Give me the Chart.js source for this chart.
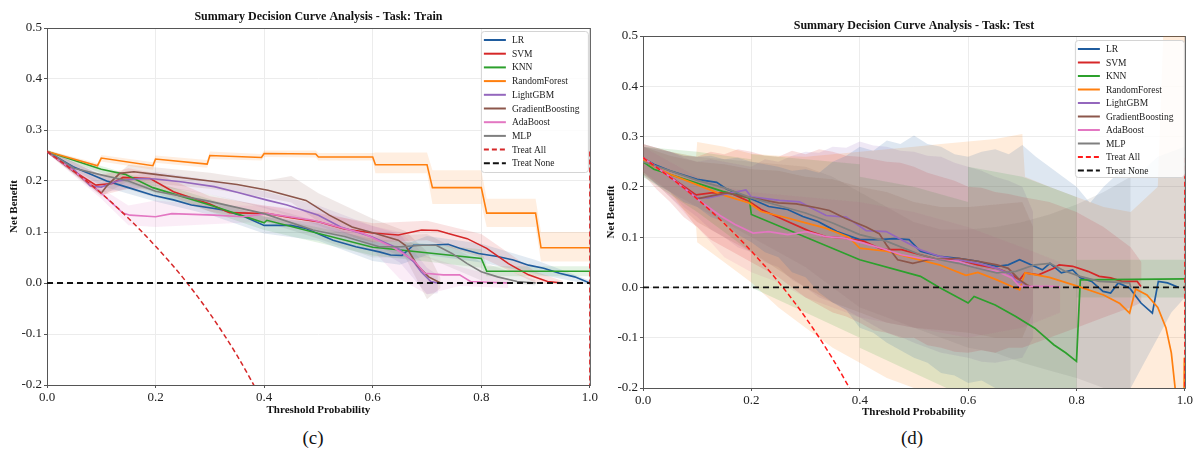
<!DOCTYPE html>
<html>
<head>
<meta charset="utf-8">
<script src="https://cdn.jsdelivr.net/npm/chart.js@4.4.1/dist/chart.umd.min.js"></script>
<style>
  html, body { margin: 0; padding: 0; background: #fff; }
  body { width: 1195px; height: 456px; position: relative; overflow: hidden; font-family: "Liberation Serif", serif; }
  canvas { position: absolute; top: 0; }
  #trainChart { left: 0; }
  #testChart { left: 600px; }
  .cap { position: absolute; top: 427px; width: 100px; text-align: center; font-size: 19px; line-height: 22px; color: #111; }
</style>
</head>
<body>
<canvas id="trainChart" width="600" height="420"></canvas>
<canvas id="testChart" width="595" height="420"></canvas>
<div class="cap" style="left:263px">(c)</div>
<div class="cap" style="left:862px">(d)</div>
<script>
"use strict";

// ---------------------------------------------------------
// Data
// ---------------------------------------------------------

const MODEL_NAMES = ["LR", "SVM", "KNN", "RandomForest", "LightGBM", "GradientBoosting", "AdaBoost", "MLP"];
const MODEL_COLORS = ["#1f5c9e", "#d62728", "#2ca02c", "#ff7f0e", "#9467bd", "#8c564b", "#e377c2", "#7f7f7f"];
const X_TICKS = [0, 0.2, 0.4, 0.6, 0.8, 1.0];
const Y_TICKS = [-0.2, -0.1, 0.0, 0.1, 0.2, 0.3, 0.4, 0.5];

// train: [threshold, net benefit]
const trainLR = [[0,0.258],[0.048,0.228],[0.11,0.200],[0.15,0.187],[0.195,0.172],[0.233,0.163],[0.266,0.153],[0.308,0.146],[0.325,0.143],[0.364,0.130],[0.40,0.113],[0.449,0.113],[0.477,0.107],[0.527,0.084],[0.569,0.071],[0.612,0.061],[0.633,0.055],[0.654,0.054],[0.675,0.074],[0.703,0.074],[0.739,0.076],[0.76,0.068],[0.795,0.058],[0.83,0.052],[0.859,0.045],[0.887,0.035],[0.915,0.029],[0.944,0.019],[0.972,0.012],[1.0,0.0]];
const trainSVM = [[0,0.258],[0.05,0.219],[0.09,0.192],[0.12,0.195],[0.14,0.207],[0.19,0.205],[0.233,0.179],[0.3,0.155],[0.336,0.138],[0.407,0.136],[0.45,0.128],[0.5,0.120],[0.548,0.106],[0.6,0.098],[0.647,0.094],[0.69,0.104],[0.72,0.103],[0.739,0.097],[0.774,0.087],[0.81,0.068],[0.85,0.038],[0.887,0.016],[0.922,0.003],[0.95,0.0]];
const trainKNN = [[0,0.258],[0.1,0.223],[0.144,0.213],[0.195,0.187],[0.3,0.153],[0.4,0.118],[0.405,0.123],[0.6,0.070],[0.62,0.068],[0.8,0.048],[0.81,0.023],[1.0,0.023]];
const trainRF = [[0,0.258],[0.093,0.230],[0.1,0.245],[0.195,0.230],[0.2,0.243],[0.295,0.233],[0.3,0.250],[0.395,0.246],[0.4,0.254],[0.495,0.253],[0.5,0.247],[0.6,0.247],[0.605,0.232],[0.7,0.232],[0.71,0.187],[0.8,0.187],[0.81,0.137],[0.9,0.137],[0.91,0.069],[1.0,0.069]];
const trainLGBM = [[0,0.258],[0.05,0.222],[0.08,0.19],[0.1,0.188],[0.13,0.2],[0.17,0.205],[0.2,0.204],[0.25,0.198],[0.308,0.189],[0.35,0.178],[0.407,0.162],[0.442,0.153],[0.5,0.133],[0.541,0.110],[0.597,0.091],[0.647,0.068],[0.675,0.042],[0.689,0.022],[0.707,0.003],[0.72,0.0]];
const trainGB = [[0,0.258],[0.05,0.218],[0.1,0.176],[0.11,0.19],[0.134,0.215],[0.16,0.218],[0.2,0.213],[0.3,0.2],[0.35,0.193],[0.407,0.182],[0.477,0.162],[0.52,0.133],[0.562,0.110],[0.605,0.097],[0.647,0.084],[0.66,0.074],[0.682,0.035],[0.703,0.012],[0.725,0.0]];
const trainAda = [[0,0.258],[0.05,0.219],[0.1,0.176],[0.14,0.137],[0.153,0.133],[0.2,0.13],[0.23,0.136],[0.308,0.133],[0.36,0.13],[0.407,0.136],[0.49,0.123],[0.583,0.097],[0.64,0.068],[0.675,0.045],[0.696,0.019],[0.73,0.016],[0.76,0.016],[0.78,0.003],[0.85,0.0]];
const trainMLP = [[0,0.258],[0.05,0.225],[0.1,0.212],[0.15,0.2],[0.2,0.18],[0.3,0.16],[0.4,0.136],[0.49,0.104],[0.548,0.091],[0.612,0.071],[0.654,0.071],[0.69,0.074],[0.717,0.074],[0.746,0.058],[0.774,0.038],[0.8,0.022],[0.83,0.012],[0.866,0.003],[0.9,0.0]];
const trainTreatAll = [[0,0.258],[0.05,0.219],[0.1,0.176],[0.15,0.127],[0.2,0.072],[0.25,0.011],[0.3,-0.060],[0.35,-0.142],[0.4,-0.237]];
const trainTreatAllEdge = [[1,0.258],[1,-0.2]];

// train bands: [threshold, lower, upper]
const trainLRBand = [[0,0.255,0.261],[0.1,0.19,0.212],[0.2,0.16,0.186],[0.3,0.134,0.162],[0.4,0.097,0.13],[0.5,0.083,0.117],[0.6,0.043,0.082],[0.65,0.036,0.072],[0.7,0.055,0.092],[0.8,0.04,0.077],[0.9,0.018,0.045],[1,-0.003,0.005]];
const trainSVMBand = [[0,0.255,0.261],[0.1,0.172,0.212],[0.15,0.185,0.225],[0.2,0.183,0.215],[0.3,0.14,0.17],[0.4,0.12,0.152],[0.5,0.104,0.137],[0.6,0.08,0.117],[0.7,0.084,0.122],[0.8,0.05,0.096],[0.9,0.0,0.022],[0.95,-0.003,0.004]];
const trainKNNBand = [[0,0.255,0.261],[0.2,0.176,0.198],[0.4,0.104,0.131],[0.6,0.054,0.087],[0.8,0.03,0.066],[0.81,0.013,0.033],[1,0.013,0.033]];
const trainRFBand = [[0,0.255,0.261],[0.093,0.226,0.235],[0.1,0.238,0.251],[0.195,0.222,0.237],[0.2,0.236,0.25],[0.295,0.226,0.241],[0.3,0.243,0.258],[0.395,0.24,0.253],[0.4,0.247,0.26],[0.495,0.246,0.26],[0.5,0.24,0.255],[0.6,0.24,0.255],[0.605,0.215,0.256],[0.7,0.215,0.256],[0.71,0.155,0.221],[0.8,0.155,0.221],[0.81,0.11,0.165],[0.9,0.11,0.165],[0.91,0.042,0.1],[1,0.042,0.1]];
const trainLGBMBand = [[0,0.255,0.261],[0.1,0.178,0.198],[0.2,0.19,0.218],[0.3,0.174,0.202],[0.4,0.147,0.18],[0.5,0.113,0.152],[0.6,0.07,0.112],[0.65,0.04,0.096],[0.7,-0.022,0.03],[0.72,-0.02,0.015]];
const trainGBBand = [[0,0.255,0.261],[0.1,0.17,0.182],[0.15,0.2,0.232],[0.3,0.185,0.216],[0.4,0.168,0.2],[0.45,0.158,0.21],[0.5,0.12,0.176],[0.6,0.074,0.126],[0.66,0.05,0.102],[0.7,-0.032,0.062],[0.725,-0.01,0.01]];
const trainAdaBand = [[0,0.255,0.261],[0.1,0.165,0.186],[0.15,0.113,0.152],[0.2,0.11,0.162],[0.3,0.115,0.152],[0.4,0.12,0.152],[0.5,0.1,0.142],[0.6,0.064,0.112],[0.65,0.008,0.1],[0.7,-0.022,0.052],[0.76,-0.006,0.032],[0.85,-0.01,0.008]];
const trainMLPBand = [[0,0.255,0.261],[0.1,0.2,0.223],[0.2,0.167,0.193],[0.3,0.146,0.174],[0.4,0.12,0.15],[0.5,0.087,0.121],[0.6,0.05,0.091],[0.7,0.05,0.096],[0.8,0.005,0.041],[0.9,-0.005,0.006]];

// test: [threshold, net benefit]
const testLR = [[0,0.257],[0.02,0.245],[0.05,0.232],[0.1,0.215],[0.136,0.209],[0.154,0.196],[0.196,0.178],[0.232,0.161],[0.267,0.155],[0.295,0.141],[0.323,0.131],[0.358,0.111],[0.4,0.095],[0.435,0.095],[0.463,0.097],[0.491,0.095],[0.512,0.072],[0.547,0.062],[0.582,0.058],[0.618,0.052],[0.653,0.042],[0.674,0.045],[0.695,0.055],[0.716,0.045],[0.737,0.035],[0.751,0.048],[0.772,0.029],[0.793,0.035],[0.807,0.019],[0.828,0.012],[0.849,-0.008],[0.863,-0.011],[0.877,0.009],[0.898,-0.001],[0.919,-0.031],[0.94,-0.051],[0.951,0.012],[0.968,0.009],[0.989,0.0]];
const testSVM = [[0,0.258],[0.05,0.22],[0.098,0.184],[0.126,0.188],[0.161,0.188],[0.196,0.171],[0.218,0.155],[0.267,0.131],[0.309,0.111],[0.337,0.101],[0.372,0.098],[0.407,0.092],[0.442,0.075],[0.477,0.075],[0.512,0.065],[0.547,0.055],[0.582,0.055],[0.618,0.045],[0.653,0.038],[0.674,0.029],[0.695,0.015],[0.705,0.029],[0.73,0.025],[0.758,0.038],[0.768,0.045],[0.793,0.042],[0.821,0.032],[0.842,0.022],[0.863,0.019],[0.884,0.012],[0.912,0.012],[0.919,0.002]];
const testKNN = [[0,0.25],[0.02,0.235],[0.147,0.191],[0.196,0.178],[0.2,0.145],[0.4,0.055],[0.512,0.022],[0.547,0.0],[0.6,-0.031],[0.611,-0.018],[0.65,-0.035],[0.688,-0.058],[0.723,-0.081],[0.758,-0.114],[0.78,-0.13],[0.8,-0.147],[0.807,0.015],[1.0,0.017]];
const testRF = [[0,0.255],[0.014,0.244],[0.05,0.225],[0.091,0.208],[0.147,0.184],[0.196,0.168],[0.218,0.151],[0.267,0.138],[0.302,0.128],[0.337,0.118],[0.38,0.1],[0.4,0.078],[0.449,0.072],[0.498,0.058],[0.547,0.045],[0.596,0.024],[0.618,0.030],[0.653,0.015],[0.695,-0.005],[0.705,0.029],[0.75,0.02],[0.8,0.003],[0.85,-0.015],[0.88,-0.032],[0.898,-0.051],[0.909,-0.003],[0.93,-0.015],[0.95,-0.04],[0.965,-0.08],[0.975,-0.13],[0.982,-0.2],[0.99,-0.4],[0.997,-0.4],[0.999,-0.14]];
const testLGBM = [[0,0.258],[0.05,0.22],[0.1,0.178],[0.12,0.178],[0.15,0.185],[0.19,0.194],[0.2,0.18],[0.252,0.173],[0.289,0.17],[0.338,0.143],[0.375,0.14],[0.412,0.113],[0.449,0.111],[0.477,0.095],[0.512,0.075],[0.547,0.062],[0.618,0.048],[0.653,0.038],[0.681,0.025],[0.688,0.012],[0.702,0.009],[0.71,0.0]];
const testGB = [[0,0.258],[0.05,0.22],[0.1,0.176],[0.117,0.18],[0.154,0.188],[0.2,0.178],[0.25,0.168],[0.283,0.166],[0.323,0.158],[0.344,0.153],[0.372,0.138],[0.412,0.12],[0.436,0.107],[0.449,0.085],[0.47,0.055],[0.498,0.048],[0.526,0.055],[0.582,0.058],[0.618,0.052],[0.653,0.045],[0.674,0.038],[0.695,0.015],[0.709,0.005],[0.72,0.0]];
const testAda = [[0,0.258],[0.05,0.22],[0.1,0.176],[0.142,0.143],[0.17,0.125],[0.203,0.108],[0.232,0.111],[0.267,0.105],[0.302,0.111],[0.337,0.101],[0.372,0.098],[0.407,0.088],[0.449,0.075],[0.477,0.065],[0.512,0.058],[0.547,0.055],[0.582,0.052],[0.618,0.038],[0.653,0.032],[0.681,0.019],[0.695,0.002],[0.758,0.002],[0.77,0.0]];
const testMLP = [[0,0.25],[0.05,0.232],[0.1,0.213],[0.15,0.198],[0.2,0.178],[0.25,0.163],[0.3,0.148],[0.35,0.128],[0.4,0.105],[0.449,0.092],[0.512,0.065],[0.547,0.055],[0.582,0.048],[0.618,0.038],[0.653,0.029],[0.688,0.032],[0.723,0.045],[0.751,0.048],[0.779,0.032],[0.807,0.022],[0.842,0.012],[0.898,0.009],[0.9,0.0]];
const testTreatAll = [[0,0.258],[0.05,0.219],[0.1,0.176],[0.15,0.127],[0.2,0.072],[0.25,0.011],[0.3,-0.060],[0.35,-0.142],[0.4,-0.237]];
const testTreatAllEdge = [[1,0.258],[1,-0.2]];

// test bands: [threshold, lower, upper]
const testLRBand = [[0,0.225,0.285],[0.025,0.205,0.278],[0.05,0.19,0.27],[0.075,0.17,0.262],[0.1,0.16,0.26],[0.125,0.14,0.262],[0.15,0.13,0.255],[0.175,0.105,0.258],[0.2,0.09,0.25],[0.225,0.07,0.245],[0.25,0.06,0.24],[0.275,0.03,0.232],[0.3,0.02,0.235],[0.325,-0.01,0.228],[0.35,-0.03,0.25],[0.375,-0.045,0.262],[0.4,-0.08,0.28],[0.425,-0.09,0.272],[0.45,-0.11,0.292],[0.475,-0.125,0.285],[0.5,-0.14,0.302],[0.525,-0.15,0.285],[0.55,-0.17,0.28],[0.575,-0.175,0.265],[0.6,-0.19,0.26],[0.625,-0.185,0.27],[0.65,-0.2,0.275],[0.675,-0.21,0.265],[0.7,-0.22,0.283],[0.725,-0.225,0.26],[0.75,-0.23,0.24],[0.775,-0.23,0.22],[0.8,-0.23,0.2],[0.825,-0.22,0.168],[0.85,-0.22,0.2],[0.875,-0.21,0.225],[0.9,-0.2,0.24],[0.925,-0.15,0.235],[0.95,-0.1,0.26],[0.975,-0.05,0.27],[1.0,-0.02,0.28]];
const testSVMBand = [[0,0.225,0.285],[0.025,0.195,0.278],[0.05,0.17,0.27],[0.075,0.14,0.262],[0.1,0.12,0.26],[0.125,0.095,0.27],[0.15,0.08,0.265],[0.175,0.065,0.275],[0.2,0.05,0.27],[0.225,0.035,0.262],[0.25,0.02,0.26],[0.275,0.0,0.272],[0.3,-0.02,0.265],[0.325,-0.035,0.275],[0.35,-0.05,0.27],[0.375,-0.058,0.262],[0.4,-0.07,0.26],[0.425,-0.085,0.255],[0.45,-0.09,0.25],[0.475,-0.1,0.248],[0.5,-0.1,0.24],[0.525,-0.115,0.228],[0.55,-0.12,0.22],[0.575,-0.128,0.212],[0.6,-0.13,0.2],[0.625,-0.125,0.198],[0.65,-0.13,0.19],[0.675,-0.12,0.186],[0.7,-0.12,0.18],[0.75,-0.1,0.17],[0.8,-0.08,0.15],[0.85,-0.06,0.12],[0.9,-0.04,0.08],[0.92,-0.03,0.05]];
const testKNNBand = [[0,0.22,0.28],[0.1,0.15,0.27],[0.2,0.07,0.255],[0.2,0.0,0.265],[0.3,-0.05,0.255],[0.4,-0.1,0.245],[0.4,-0.12,0.22],[0.5,-0.17,0.2],[0.6,-0.22,0.17],[0.6,-0.2,0.24],[0.7,-0.25,0.22],[0.8,-0.3,0.18],[0.8,-0.02,0.055],[0.9,-0.02,0.055],[1.0,-0.02,0.055]];
const testRFBand = [[0,0.225,0.285],[0.05,0.19,0.27],[0.098,0.12,0.26],[0.1,0.09,0.289],[0.15,0.05,0.28],[0.2,0.01,0.266],[0.25,-0.04,0.262],[0.3,-0.08,0.26],[0.35,-0.12,0.265],[0.4,-0.15,0.27],[0.45,-0.18,0.275],[0.5,-0.2,0.28],[0.55,-0.22,0.285],[0.6,-0.25,0.29],[0.65,-0.25,0.295],[0.7,-0.25,0.305],[0.705,-0.25,0.22],[0.75,-0.25,0.2],[0.8,-0.25,0.18],[0.85,-0.22,0.16],[0.9,-0.2,0.15],[0.95,-0.25,0.2],[0.96,-0.3,0.5],[1.0,-0.3,0.5]];
const testLGBMBand = [[0,0.23,0.28],[0.025,0.21,0.275],[0.05,0.19,0.27],[0.075,0.16,0.258],[0.1,0.14,0.25],[0.125,0.115,0.255],[0.15,0.1,0.25],[0.175,0.08,0.245],[0.2,0.07,0.24],[0.225,0.05,0.255],[0.25,0.04,0.25],[0.275,0.015,0.262],[0.3,0.0,0.27],[0.325,-0.02,0.268],[0.35,-0.03,0.28],[0.375,-0.045,0.278],[0.4,-0.06,0.29],[0.425,-0.075,0.282],[0.45,-0.09,0.28],[0.475,-0.098,0.272],[0.5,-0.11,0.27],[0.525,-0.12,0.262],[0.55,-0.13,0.26],[0.575,-0.135,0.248],[0.6,-0.14,0.24],[0.625,-0.148,0.232],[0.65,-0.15,0.22],[0.675,-0.145,0.212],[0.7,-0.14,0.2],[0.72,-0.1,0.15]];
const testGBBand = [[0,0.23,0.28],[0.05,0.18,0.262],[0.1,0.13,0.25],[0.15,0.1,0.245],[0.2,0.07,0.235],[0.25,0.035,0.232],[0.3,0.0,0.22],[0.35,-0.03,0.215],[0.4,-0.05,0.2],[0.45,-0.07,0.19],[0.5,-0.08,0.17],[0.55,-0.085,0.16],[0.6,-0.09,0.16],[0.65,-0.1,0.165],[0.7,-0.1,0.17],[0.72,-0.05,0.12]];
const testAdaBand = [[0,0.23,0.28],[0.05,0.18,0.25],[0.1,0.12,0.22],[0.15,0.06,0.2],[0.2,0.03,0.19],[0.25,0.01,0.185],[0.3,-0.02,0.18],[0.4,-0.06,0.17],[0.5,-0.08,0.15],[0.6,-0.1,0.12],[0.7,-0.08,0.08],[0.77,-0.05,0.05]];
const testMLPBand = [[0,0.22,0.28],[0.1,0.16,0.26],[0.2,0.1,0.25],[0.3,0.04,0.24],[0.35,0.0,0.22],[0.4,-0.04,0.19],[0.45,-0.06,0.16],[0.5,-0.08,0.13],[0.55,-0.1,0.115],[0.6,-0.12,0.115],[0.65,-0.13,0.12],[0.7,-0.15,0.13],[0.75,-0.165,0.145],[0.8,-0.18,0.165],[0.85,-0.2,0.19],[0.9,-0.2,0.22]];

const TRAIN_LINES = [trainLR, trainSVM, trainKNN, trainRF, trainLGBM, trainGB, trainAda, trainMLP];
const TRAIN_BANDS = [trainLRBand, trainSVMBand, trainKNNBand, trainRFBand, trainLGBMBand, trainGBBand, trainAdaBand, trainMLPBand];
const TEST_LINES = [testLR, testSVM, testKNN, testRF, testLGBM, testGB, testAda, testMLP];
const TEST_BANDS = [testLRBand, testSVMBand, testKNNBand, testRFBand, testLGBMBand, testGBBand, testAdaBand, testMLPBand];

// ---------------------------------------------------------
// Helpers
// ---------------------------------------------------------

const SERIF = '"Liberation Serif", "Times New Roman", serif';

function rgba(hex, a) {
  const n = parseInt(hex.slice(1), 16);
  return `rgba(${(n >> 16) & 255},${(n >> 8) & 255},${n & 255},${a})`;
}

function pts(arr) {
  return arr.map(p => ({ x: p[0], y: p[1] }));
}

function bandSets(band, color, alpha) {
  return [
    { data: band.map(p => ({ x: p[0], y: p[1] })), borderWidth: 0, pointRadius: 0, fill: false, order: 20 },
    { data: band.map(p => ({ x: p[0], y: p[2] })), borderWidth: 0, pointRadius: 0, fill: "-1",
      backgroundColor: rgba(color, alpha), order: 20 }
  ];
}

// title, axis titles, spines and the in-plot legend
const panelDecor = {
  id: "panelDecor",
  beforeDatasetsDraw(chart) {
    const { ctx, chartArea: a } = chart;
    ctx.save();
    ctx.strokeStyle = "#555";
    ctx.lineWidth = 1;
    ctx.strokeRect(a.left + 0.5, a.top + 0.5, a.right - a.left, a.bottom - a.top);
    ctx.restore();
  },
  afterDraw(chart, args, o) {
    const { ctx, chartArea: a } = chart;
    const cx = (a.left + a.right) / 2;
    ctx.save();
    ctx.fillStyle = "#111";
    ctx.textAlign = "center";
    ctx.textBaseline = "middle";
    ctx.font = `bold 12px ${SERIF}`;
    ctx.fillText(o.title, cx, o.titleY);
    ctx.font = `bold 11px ${SERIF}`;
    ctx.fillText("Threshold Probability", cx, o.xTitleY);
    ctx.translate(o.yTitleX, (a.top + a.bottom) / 2);
    ctx.rotate(-Math.PI / 2);
    ctx.fillText("Net Benefit", 0, 0);
    ctx.restore();

    // legend
    const bx = a.right - o.legend.right - o.legend.w;
    const by = a.top + o.legend.top;
    ctx.save();
    ctx.fillStyle = "rgba(255,255,255,0.85)";
    ctx.strokeStyle = "#d4d4d4";
    ctx.lineWidth = 1;
    ctx.beginPath();
    ctx.roundRect(bx + 0.5, by + 0.5, o.legend.w, o.legend.h, 3);
    ctx.fill();
    ctx.stroke();
    const items = MODEL_NAMES.map((n, i) => ({ name: n, color: MODEL_COLORS[i], dash: [] }));
    items.push({ name: "Treat All", color: o.treatAllColor, dash: [5, 3] });
    items.push({ name: "Treat None", color: "#111", dash: [6, 3] });
    ctx.font = `9.5px ${SERIF}`;
    ctx.textAlign = "left";
    ctx.textBaseline = "middle";
    items.forEach((it, i) => {
      const y = by + 9 + i * o.legend.step;
      ctx.strokeStyle = it.color;
      ctx.lineWidth = 2;
      ctx.setLineDash(it.dash);
      ctx.beginPath();
      ctx.moveTo(bx + 3, y);
      ctx.lineTo(bx + 25, y);
      ctx.stroke();
      ctx.setLineDash([]);
      ctx.fillStyle = "#222";
      ctx.fillText(it.name, bx + 31, y + 0.5);
    });
    ctx.restore();
  }
};

function makePanel(id, cfg) {
  const datasets = [];
  cfg.bands.forEach((b, i) => datasets.push(...bandSets(b, MODEL_COLORS[i], cfg.bandAlpha)));
  cfg.lines.forEach((l, i) => datasets.push({
    data: pts(l), borderColor: MODEL_COLORS[i], borderWidth: cfg.lineWidth,
    pointRadius: 0, fill: false, tension: 0, order: 10 - i
  }));
  datasets.push({
    data: pts(cfg.treatAll), borderColor: cfg.treatAllColor, borderWidth: 1.5, borderDash: [5, 3],
    pointRadius: 0, fill: false, cubicInterpolationMode: "monotone", order: 1
  });
  datasets.push({
    data: pts(cfg.treatAllEdge), borderColor: cfg.treatAllColor, borderWidth: 1.5, borderDash: [5, 3],
    pointRadius: 0, fill: false, order: 1
  });
  datasets.push({
    data: [{ x: 0, y: 0 }, { x: 1, y: 0 }], borderColor: "#111", borderWidth: 1.8, borderDash: [6, 4],
    pointRadius: 0, fill: false, order: 0
  });

  const tickFont = { family: SERIF, size: 13 };

  return new Chart(document.getElementById(id), {
    type: "line",
    data: { datasets },
    options: {
      responsive: false,
      animation: false,
      events: [],
      layout: { padding: { top: cfg.top, right: cfg.right, left: 0, bottom: 0 } },
      plugins: {
        legend: { display: false },
        tooltip: { enabled: false },
        panelDecor: cfg.decor
      },
      scales: {
        x: {
          type: "linear", min: 0, max: 1,
          afterBuildTicks: s => { s.ticks = X_TICKS.map(v => ({ value: v })); },
          afterFit: s => { s.height = cfg.xAxisH; },
          grid: { color: "#ececec", lineWidth: 1, tickLength: 3, tickColor: "#555" },
          border: { display: false },
          ticks: { font: tickFont, color: "#222", padding: 2, maxRotation: 0,
                   callback: v => v.toFixed(1) }
        },
        y: {
          type: "linear", min: -0.2, max: 0.5,
          afterBuildTicks: s => { s.ticks = Y_TICKS.map(v => ({ value: v })); },
          afterFit: s => { s.width = cfg.yAxisW; },
          grid: { color: "#ececec", lineWidth: 1, tickLength: 3, tickColor: "#555" },
          border: { display: false },
          ticks: { font: tickFont, color: "#222", padding: 2,
                   callback: v => (Math.abs(v) < 1e-9 ? "0.0" : v.toFixed(1)) }
        }
      }
    },
    plugins: [panelDecor]
  });
}

makePanel("trainChart", {
  lines: TRAIN_LINES, bands: TRAIN_BANDS, bandAlpha: 0.13, lineWidth: 1.6,
  treatAll: trainTreatAll, treatAllEdge: trainTreatAllEdge, treatAllColor: "#d62728",
  top: 28, right: 10, xAxisH: 35, yAxisW: 47,
  decor: {
    title: "Summary Decision Curve Analysis - Task: Train", titleY: 17, xTitleY: 410, yTitleX: 14,
    treatAllColor: "#d62728",
    legend: { right: 2, top: 3, w: 107, h: 141, step: 13.7 }
  }
});

makePanel("testChart", {
  lines: TEST_LINES, bands: TEST_BANDS, bandAlpha: 0.15, lineWidth: 1.7,
  treatAll: testTreatAll, treatAllEdge: testTreatAllEdge, treatAllColor: "#ff1a1a",
  top: 36, right: 9, xAxisH: 32, yAxisW: 43,
  decor: {
    title: "Summary Decision Curve Analysis - Task: Test", titleY: 26, xTitleY: 412, yTitleX: 11,
    treatAllColor: "#ff1a1a",
    legend: { right: 1, top: 4, w: 109, h: 137, step: 13.5 }
  }
});
</script>
</body>
</html>
